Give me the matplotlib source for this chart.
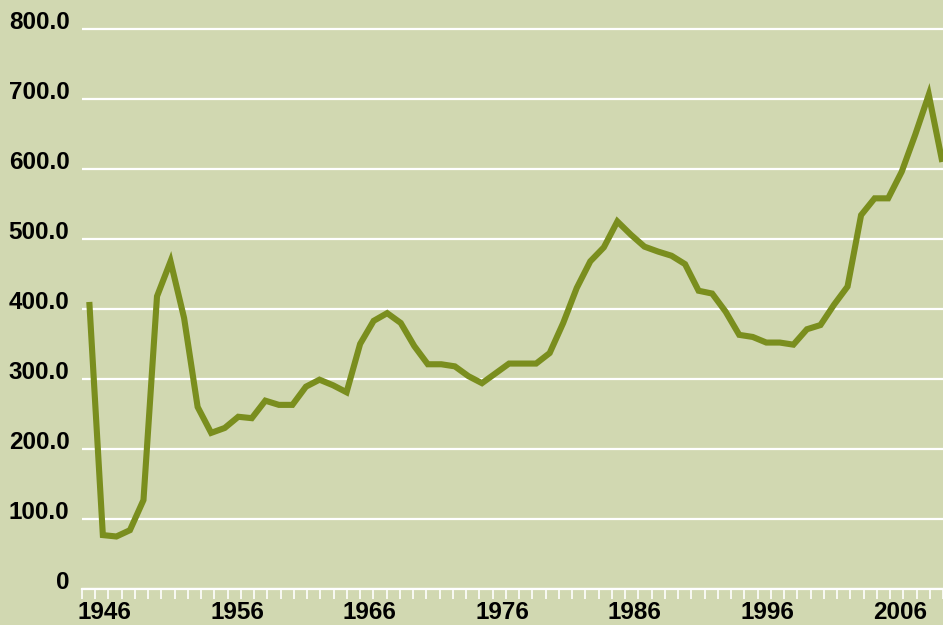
import matplotlib.pyplot as plt
from matplotlib.ticker import FuncFormatter
from matplotlib.transforms import ScaledTranslation

# anos e valores da serie
anos = list(range(1946, 2010))
valores = [410, 77, 75, 84, 127, 418, 468, 387, 260, 223,
           230, 246, 244, 269, 263, 263, 289, 299, 291, 281,
           350, 383, 394, 380, 347, 321, 321, 318, 304, 294,
           308, 322, 322, 322, 337, 380, 430, 468, 488, 525,
           506, 489, 482, 476, 464, 426, 422, 396, 363, 360,
           352, 352, 349, 371, 377, 406, 432, 534, 558, 558,
           596, 649, 706, 610]

rotulos_x = [1946, 1956, 1966, 1976, 1986, 1996, 2006]
ticks_y = [0, 100, 200, 300, 400, 500, 600, 700, 800]

fundo = '#d1d8b1'
cor_linha = '#7a8e1e'

plt.rcParams['font.family'] = ['Liberation Sans', 'DejaVu Sans']

fig = plt.figure(figsize=(9.43, 6.25), dpi=100, facecolor=fundo)
ax = fig.add_axes([82/943, 36/625, 861/943, 579/625])
ax.set_facecolor(fundo)

# eixo de categorias (rotulos e marcas)
ax.set_xlim(1944.5, 2009.5)
ax.set_ylim(0, 827)
ax.set_xticks(rotulos_x)
ax.set_xticklabels([str(a) for a in rotulos_x], fontsize=17.5, fontweight='bold')
ax.set_xticks([1944.5 + k for k in range(66)], minor=True)
ax.tick_params(axis='x', which='major', length=0, pad=8.5)
ax.tick_params(axis='x', which='minor', length=7, width=1.2, color='white', direction='out')
for lab in ax.get_xticklabels():
    lab.set_transform(lab.get_transform() + ScaledTranslation(3/100, 0, fig.dpi_scale_trans))

ax.set_yticks(ticks_y)
ax.yaxis.set_major_formatter(FuncFormatter(lambda v, p: '0' if v == 0 else f'{v:.1f}'))
ax.tick_params(axis='y', length=0, pad=9, labelsize=17.5)
for lab in ax.get_yticklabels():
    lab.set_fontweight('bold')
    lab.set_transform(lab.get_transform() + ScaledTranslation(0, 9/100, fig.dpi_scale_trans))

ax.grid(axis='y', color='white', linewidth=1.6)
ax.set_axisbelow(True)
for s in ['top', 'right', 'left']:
    ax.spines[s].set_visible(False)
ax.spines['bottom'].set_color('white')
ax.spines['bottom'].set_linewidth(1.6)

# linha dos dados
ax2 = ax.twiny()
ax2.set_xlim(1945.46, 2009.05)
ax2.set_ylim(0, 827)
ax2.plot(anos, valores, color=cor_linha, linewidth=4.4,
         solid_joinstyle='miter', solid_capstyle='butt')
ax2.set_xticks([])
for s in ax2.spines.values():
    s.set_visible(False)

fig.savefig('out.png', dpi=100, facecolor=fundo)
